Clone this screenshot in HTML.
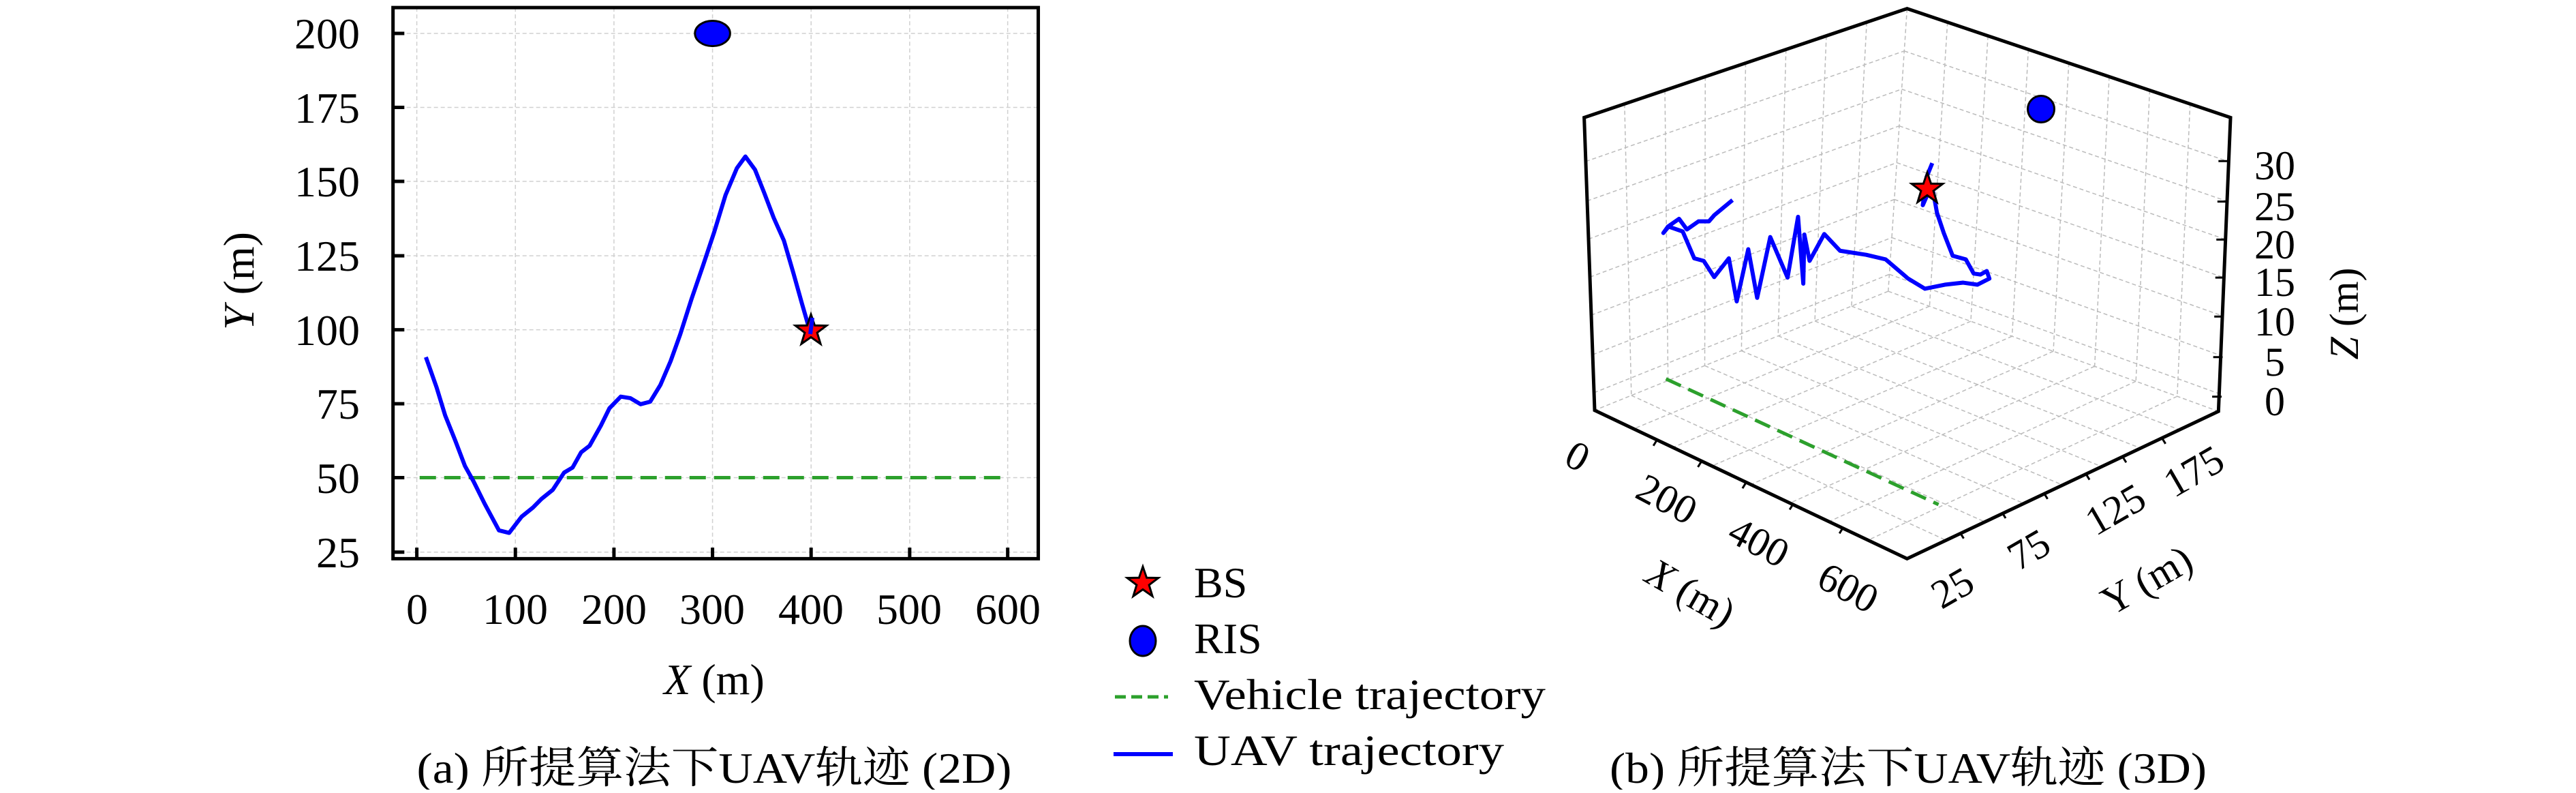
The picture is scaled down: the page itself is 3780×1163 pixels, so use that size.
<!DOCTYPE html>
<html><head><meta charset="utf-8"><style>
html,body{margin:0;padding:0;background:#fff}
svg text{font-family:"Liberation Serif","Noto Serif CJK SC",serif;fill:#000}
</style></head><body>
<svg id="s" width="3780" height="1158" viewBox="0 0 3780 1158" xmlns="http://www.w3.org/2000/svg">
<rect width="3780" height="1158" fill="#fff"/>
<!-- Panel a -->
<g transform="translate(250,0) scale(0.8313,0.7429)">
 <g stroke="#d0d0d0" stroke-width="1.5" stroke-dasharray="6,4" vector-effect="non-scaling-stroke" fill="none">
  <path vector-effect="non-scaling-stroke" d="M435,15V1103M609,15V1103M783,15V1103M957,15V1103M1131,15V1103M1305,15V1103M1478,15V1103"/>
  <path vector-effect="non-scaling-stroke" d="M393,66H1532M393,212H1532M393,358H1532M393,505H1532M393,651H1532M393,797H1532M393,943H1532M393,1090H1532"/>
 </g>
 <path vector-effect="non-scaling-stroke" stroke="#2ca02c" stroke-width="5" stroke-dasharray="24,12" fill="none" d="M440,943H1478"/>
 <polyline vector-effect="non-scaling-stroke" fill="none" stroke="#0000ff" stroke-width="6" stroke-linejoin="round" points="451,705 470,765 485,820 503,870 520,920 535,950 555,995 580,1047 598,1052 620,1020 640,1002 655,985 675,967 695,933 710,923 725,893 740,880 760,840 775,806 795,783 812,786 830,798 847,793 865,760 883,713 900,660 920,590 940,525 960,458 980,385 1000,332 1015,309 1032,335 1048,380 1065,430 1083,475 1100,540 1115,600 1128,650 1133,630"/>
 <ellipse cx="957" cy="66" rx="31" ry="25" fill="#0000ff" stroke="#000" stroke-width="3" vector-effect="non-scaling-stroke"/>
 <path vector-effect="non-scaling-stroke" stroke="#000" stroke-width="5" fill="none" d="M393,15H1532V1103H393Z M435,1103v-22M609,1103v-22M783,1103v-22M957,1103v-22M1131,1103v-22M1305,1103v-22M1478,1103v-22 M393,66h20M393,212h20M393,358h20M393,505h20M393,651h20M393,797h20M393,943h20M393,1090h20"/>
</g>
<polygon transform="translate(1190,485)" points="0,-24 5.6,-7.7 22.8,-7.4 9.1,2.9 14.1,19.4 0,9.5 -14.1,19.4 -9.1,2.9 -22.8,-7.4 -5.6,-7.7" fill="#ff0000" stroke="#000" stroke-width="3"/>
<line x1="1192" y1="466" x2="1189" y2="490" stroke="#0000ff" stroke-width="6"/>
<g font-size="64" text-anchor="end">
 <text x="528" y="71">200</text><text x="528" y="180">175</text><text x="528" y="288">150</text><text x="528" y="397">125</text><text x="528" y="506">100</text><text x="528" y="614">75</text><text x="528" y="723">50</text><text x="528" y="832">25</text>
</g>
<g font-size="64" text-anchor="middle">
 <text x="612" y="915">0</text><text x="756" y="915">100</text><text x="901" y="915">200</text><text x="1045" y="915">300</text><text x="1190" y="915">400</text><text x="1334" y="915">500</text><text x="1479" y="915">600</text>
 <text x="1048" y="1018"><tspan font-style="italic">X</tspan> (m)</text>
 <text transform="translate(372,412) rotate(-90)"><tspan font-style="italic">Y</tspan> (m)</text>
 <text x="1048" y="1148" textLength="873" lengthAdjust="spacingAndGlyphs">(a) 所提算法下UAV轨迹 (2D)</text>
</g>
<!-- Legend -->
<polygon transform="translate(1677,855) scale(1.0)" points="0,-24 5.6,-7.7 22.8,-7.4 9.1,2.9 14.1,19.4 0,9.5 -14.1,19.4 -9.1,2.9 -22.8,-7.4 -5.6,-7.7" fill="#ff0000" stroke="#000" stroke-width="3"/>
<ellipse cx="1677" cy="940" rx="19" ry="22" fill="#0000ff" stroke="#000" stroke-width="3"/>
<path d="M1636,1022H1714" stroke="#2ca02c" stroke-width="5" stroke-dasharray="16,8"/>
<path d="M1634,1106H1721" stroke="#0000ff" stroke-width="6"/>
<g font-size="64">
 <text x="1752" y="876">BS</text>
 <text x="1752" y="958">RIS</text>
 <text x="1752" y="1040" textLength="516" lengthAdjust="spacingAndGlyphs">Vehicle trajectory</text>
 <text x="1752" y="1122" textLength="455" lengthAdjust="spacingAndGlyphs">UAV trajectory</text>
</g>
<!-- Panel b -->
<g id="p3" transform="translate(2200,0) scale(0.7692,0.7429)">
 <g id="grid" fill="none" stroke="#bbbbbb" stroke-width="1.5" stroke-dasharray="6,4"></g>
 <path vector-effect="non-scaling-stroke" stroke="#2ca02c" stroke-width="5" stroke-dasharray="24,12" fill="none" d="M318,748L838,996"/>
 <polyline vector-effect="non-scaling-stroke" fill="none" stroke="#0000ff" stroke-width="6" stroke-linejoin="round" points="445,395 410,425 400,437 380,437 358,453 343,432 325,445 313,460 322,447 350,457 372,510 390,515 410,547 438,510 453,595 475,492 492,588 517,468 550,548 570,428 580,560 582,463 592,515 620,462 650,495 700,503 737,512 780,550 812,570 850,562 885,558 912,562 935,550 930,535 918,542 905,540 890,512 865,505 848,460 835,420 828,380 822,372 808,405 815,350 826,322"/>
 <path vector-effect="non-scaling-stroke" stroke="#000" stroke-width="5" fill="none" stroke-linejoin="miter" d="M182,810L162,232L778,17L1395,232L1372,812L778,1103Z"/>
 <path vector-effect="non-scaling-stroke" stroke="#000" stroke-width="3" fill="none" d="M1390,318h-18M1388,398h-18M1386,473h-18M1384,548h-18M1382,625h-18M1380,705h-18M1378,783h-18 M300,870l-6,10M385,912l-6,10M470,954l-6,10M560,996l-6,10M655,1043l-6,10 M880,1053l6,10M960,1013l6,10M1040,975l6,10M1120,937l6,10M1190,903l6,10M1265,866l6,10"/>
</g>
<circle cx="2995" cy="160" r="19.5" fill="#0000ff" stroke="#000" stroke-width="3"/>
<polygon transform="translate(2828,277) scale(1.0)" points="0,-24 5.6,-7.7 22.8,-7.4 9.1,2.9 14.1,19.4 0,9.5 -14.1,19.4 -9.1,2.9 -22.8,-7.4 -5.6,-7.7" fill="#ff0000" stroke="#000" stroke-width="3"/>
<g font-size="60" text-anchor="middle">
 <text x="3338" y="263">30</text><text x="3338" y="323">25</text><text x="3338" y="379">20</text><text x="3338" y="434">15</text><text x="3338" y="492">10</text><text x="3338" y="551">5</text><text x="3338" y="609">0</text>
 <text transform="translate(3440,460) rotate(-90)" dy="20"><tspan font-style="italic">Z</tspan> (m)</text>
 <text transform="translate(2315,669) rotate(28)" dy="20">0</text>
 <text transform="translate(2446,732) rotate(28)" dy="20">200</text>
 <text transform="translate(2581,795) rotate(28)" dy="20">400</text>
 <text transform="translate(2712,862) rotate(28)" dy="20">600</text>
 <text transform="translate(2481,869) rotate(30)" dy="20"><tspan font-style="italic">X</tspan> (m)</text>
 <text transform="translate(2865,862) rotate(-30)" dy="20">25</text>
 <text transform="translate(2977,806) rotate(-30)" dy="20">75</text>
 <text transform="translate(3104,747) rotate(-30)" dy="20">125</text>
 <text transform="translate(3219,691) rotate(-30)" dy="20">175</text>
 <text transform="translate(3150,851) rotate(-30)" dy="20">Y (m)</text>
</g>
<text x="2800" y="1148" font-size="64" text-anchor="middle" textLength="876" lengthAdjust="spacingAndGlyphs">(b) 所提算法下UAV轨迹 (3D)</text>
</svg>
<script>
(function(){
var g=document.getElementById('grid');var d='';
function L(a,b,t){return [a[0]+(b[0]-a[0])*t,a[1]+(b[1]-a[1])*t];}
function seg(p,q){d+='M'+p[0].toFixed(1)+','+p[1].toFixed(1)+'L'+q[0].toFixed(1)+','+q[1].toFixed(1);}
var Lt=[162,232],Bt=[778,17],Bb=[742,575],Lb=[182,810],Rt=[1395,232],Rb=[1372,812],Fb=[778,1103];
var zf=[0.15,0.285,0.415,0.545,0.675,0.81,0.94];
for(var i=1;i<8;i++){var t=i/8;
 seg(L(Lt,Bt,t),L(Lb,Bb,t));
 seg(L(Bt,Rt,t),L(Bb,Rb,t));
 seg(L(Lb,Bb,t),L(Fb,Rb,t));
 seg(L(Bb,Rb,t),L(Lb,Fb,t));
}
zf.forEach(function(s){seg(L(Lt,Lb,s),L(Bt,Bb,s));seg(L(Bt,Bb,s),L(Rt,Rb,s));});
seg(Bt,Bb);seg(Bb,Lb);seg(Bb,Rb);
var p=document.createElementNS('http://www.w3.org/2000/svg','path');
p.setAttribute('d',d);p.setAttribute('vector-effect','non-scaling-stroke');
g.appendChild(p);
})();
</script>
</body></html>
